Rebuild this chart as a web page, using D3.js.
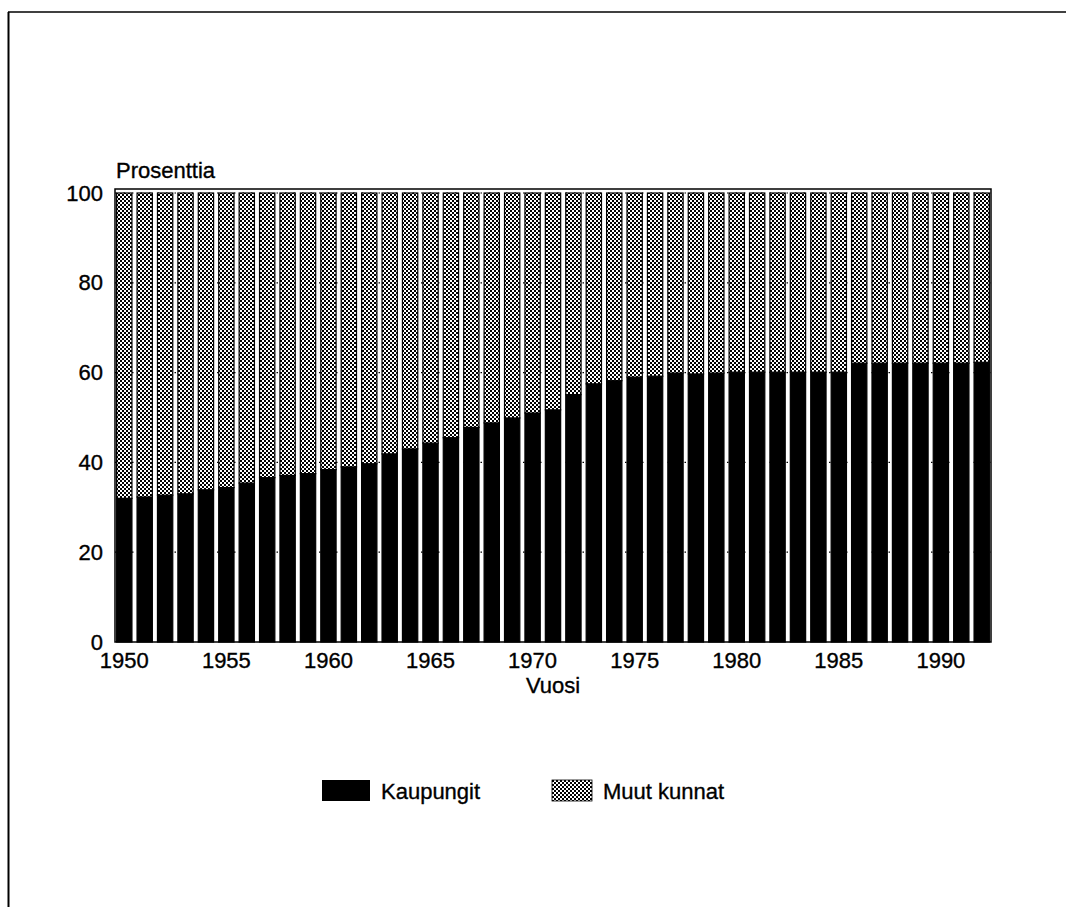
<!DOCTYPE html>
<html>
<head>
<meta charset="utf-8">
<script src="https://cdn.jsdelivr.net/npm/d3@7/dist/d3.min.js"></script>
<style>
  html, body { margin: 0; padding: 0; background: #fff; }
  svg { display: block; }
  text { font-family: "Liberation Sans", Arial, Helvetica, sans-serif; fill: #000; stroke: #000; stroke-width: 0.35px; }
</style>
</head>
<body>
<svg id="chart" width="1066" height="907"></svg>
<script>
const years = d3.range(1950, 1993);
const kaupungit = [32.0, 32.3, 32.7, 33.0, 33.9, 34.4, 35.4, 36.6, 37.1, 37.5, 38.4, 39.0,
                   39.7, 41.9, 43.0, 44.3, 45.5, 47.8, 48.8, 49.9, 51.0, 51.7, 55.1, 57.5,
                   58.2, 59.0, 59.2, 59.9, 59.7, 59.9, 60.1, 60.1, 60.1, 60.1, 60.1, 60.1, 62.1,
                   62.1, 62.1, 62.1, 62.1, 62.1, 62.3];
const muutKunnat = [68.0, 67.7, 67.3, 67.0, 66.1, 65.6, 64.6, 63.4, 62.9, 62.5, 61.6, 61.0,
                    60.3, 58.1, 57.0, 55.7, 54.5, 52.2, 51.2, 50.1, 49.0, 48.3, 44.9, 42.5,
                    41.8, 41.0, 40.8, 40.1, 40.3, 40.1, 39.9, 39.9, 39.9, 39.9, 39.9, 39.9, 37.9,
                    37.9, 37.9, 37.9, 37.9, 37.9, 37.7];
const yTicks = [0, 20, 40, 60, 80, 100];
const xTickLabels = [1950, 1955, 1960, 1965, 1970, 1975, 1980, 1985, 1990];
const seriesNames = ["Kaupungit", "Muut kunnat"];

const FS = 22;
const svg = d3.select("#chart");
const defs = svg.append("defs");
const pat = defs.append("pattern").attr("id", "check").attr("patternUnits", "userSpaceOnUse")
  .attr("width", 4).attr("height", 4);
pat.append("rect").attr("width", 4).attr("height", 4).attr("fill", "#fff");
pat.append("rect").attr("x", 0).attr("y", 0).attr("width", 2).attr("height", 2).attr("fill", "#000");
pat.append("rect").attr("x", 2).attr("y", 2).attr("width", 2).attr("height", 2).attr("fill", "#000");

// outer page frame
svg.append("line").attr("x1", 8).attr("x2", 1066).attr("y1", 12).attr("y2", 12)
  .attr("stroke", "#000").attr("stroke-width", 1.5);
svg.append("line").attr("x1", 8.5).attr("x2", 8.5).attr("y1", 12).attr("y2", 907)
  .attr("stroke", "#000").attr("stroke-width", 2);

const L = 115, R = 991, T = 189, B = 642;
const x = d3.scaleBand().domain(years).range([L, R]).paddingInner(0.25).paddingOuter(0.08);
const y = d3.scaleLinear().domain([0, 100]).range([B, 193]);

// dotted grid
svg.append("g").selectAll("line").data(yTicks.filter(d => d > 0)).join("line")
  .attr("x1", L).attr("x2", R).attr("y1", d => y(d)).attr("y2", d => y(d))
  .attr("stroke", "#000").attr("stroke-width", 1.2).attr("stroke-dasharray", "1.5,7");

const data = years.map((yr, i) => ({ year: yr, k: kaupungit[i], m: muutKunnat[i] }));
const stack = d3.stack().keys(["k", "m"])(data);
const fills = ["#000", "url(#check)"];

svg.append("g").selectAll("g").data(stack).join("g")
  .attr("fill", (d, i) => fills[i])
  .selectAll("rect").data(d => d).join("rect")
  .attr("x", d => x(d.data.year))
  .attr("width", x.bandwidth())
  .attr("y", d => y(d[1]))
  .attr("height", d => y(d[0]) - y(d[1]))
  .attr("stroke", "#000").attr("stroke-width", 1.2);

// frame
svg.append("rect").attr("x", L).attr("y", T).attr("width", R - L).attr("height", B - T)
  .attr("fill", "none").attr("stroke", "#000").attr("stroke-width", 1.5);

// y axis
const yAxis = d3.axisLeft(y).tickValues(yTicks).tickSize(0).tickPadding(12);
const gy = svg.append("g").attr("transform", `translate(${L},0)`).call(yAxis);
gy.select(".domain").remove();
gy.selectAll("text").attr("font-size", FS).attr("font-family", "Liberation Sans, Arial, sans-serif");

// x axis
const xAxis = d3.axisBottom(x).tickValues(xTickLabels).tickSize(0).tickPadding(10);
const gx = svg.append("g").attr("transform", `translate(0,${B})`).call(xAxis);
gx.select(".domain").remove();
gx.selectAll("text").attr("font-size", FS).attr("font-family", "Liberation Sans, Arial, sans-serif");

svg.append("text").attr("x", 116).attr("y", 178).attr("font-size", FS).text("Prosenttia");
svg.append("text").attr("x", 553).attr("y", 693).attr("font-size", FS)
  .attr("text-anchor", "middle").text("Vuosi");

// legend
const legend = svg.append("g");
const lx = [322, 552], lw = [48, 40];
seriesNames.forEach((name, i) => {
  legend.append("rect").attr("x", lx[i]).attr("y", 780).attr("width", lw[i]).attr("height", 21)
    .attr("fill", fills[i]).attr("stroke", "#000").attr("stroke-width", i === 0 ? 0 : 0.8);
  legend.append("text").attr("x", lx[i] + lw[i] + 11).attr("y", 799).attr("font-size", FS).text(name);
});
</script>
</body>
</html>
